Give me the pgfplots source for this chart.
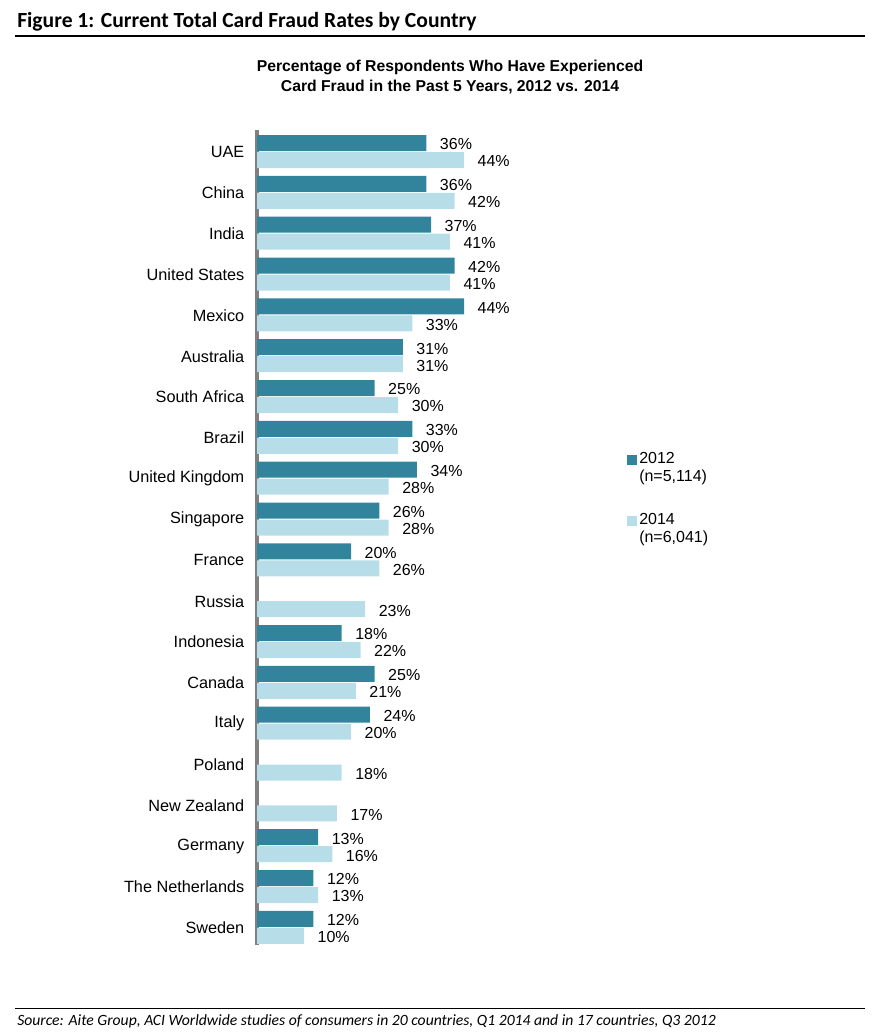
\documentclass[border=0pt]{standalone}
\usepackage{fontspec}
\setmainfont{Liberation Sans}
\newfontfamily\carlito{Carlito}
\usepackage{pgfplots}
\pgfplotsset{compat=1.18}
\definecolor{c12}{RGB}{49,132,155}
\definecolor{c14}{RGB}{183,222,232}
\definecolor{axgray}{RGB}{128,128,128}
\begin{document}
\begin{tikzpicture}[x=0.75pt,y=-0.75pt]
\useasboundingbox (0,0) rectangle (874,1033);
\node[anchor=base west, inner sep=0, font=\carlito\bfseries\fontsize{16.2pt}{19pt}\selectfont] at (17,27) {Figure 1: Current Total Card Fraud Rates by Country};
\draw[line width=1.5pt] (15,36) -- (865,36);
\node[align=center, inner sep=0, font=\bfseries\fontsize{11.8pt}{14.5pt}\selectfont] at (450,77) {Percentage of Respondents Who Have Experienced\\Card Fraud in the Past 5 Years, 2012 vs. 2014};
\begin{axis}[at={(192.75pt,-97.5pt)}, anchor=north west,
  scale only axis, width=176.44pt, height=611.25pt,
  xmin=0, xmax=50, ymin=-0.54, ymax=19.42, y dir=reverse,
  axis x line=none, axis y line*=left,
  y axis line style={draw=axgray, line width=2.25pt, -},
  ytick={0,...,19},
  yticklabels={UAE,China,India,United States,Mexico,Australia,South Africa,Brazil,United Kingdom,Singapore,France,Russia,Indonesia,Canada,Italy,Poland,New Zealand,Germany,The Netherlands,Sweden},
  major tick length=0,
  yticklabel style={font=\fontsize{12.2pt}{14pt}\selectfont, xshift=-6pt},
  xbar, bar width=12pt, clip=false,
  point meta=x,
  nodes near coords={\pgfmathprintnumber{\pgfplotspointmeta}\%},
  nodes near coords style={font=\fontsize{12pt}{14pt}\selectfont, anchor=west, inner sep=0, xshift=10pt, yshift=-1pt},
  /pgf/number format/assume math mode=true,
  /pgf/number format/fixed, /pgf/number format/precision=0,
]
\addplot[fill=c12, draw=none, bar shift=6.75pt] coordinates {
(36,0) (36,1) (37,2) (42,3) (44,4) (31,5) (25,6) (33,7) (34,8) (26,9) (20,10)
(18,12) (25,13) (24,14) (13,17) (12,18) (12,19)};
\addplot[fill=c14, draw=none, bar shift=-6pt] coordinates {
(44,0) (42,1) (41,2) (41,3) (33,4) (31,5) (30,6) (30,7) (28,8) (28,9) (26,10)
(23,11) (22,12) (21,13) (20,14) (18,15) (17,16) (16,17) (13,18) (10,19)};
\end{axis}
\fill[c12] (627,455) rectangle (637,465);
\fill[c14] (627,516) rectangle (637,526);
\node[anchor=north west, inner sep=0, align=left, font=\fontsize{12pt}{13.5pt}\selectfont] at (639,452) {2012\\(n=5,114)};
\node[anchor=north west, inner sep=0, align=left, font=\fontsize{12pt}{13.5pt}\selectfont] at (639,513) {2014\\(n=6,041)};
\draw[line width=0.75pt] (15,1008) -- (865,1008);
\node[anchor=west, inner sep=0, font=\carlito\itshape\fontsize{11.75pt}{14pt}\selectfont] at (17,1021) {Source: Aite Group, ACI Worldwide studies of consumers in 20 countries, Q1 2014 and in 17 countries, Q3 2012};
\end{tikzpicture}
\end{document}
